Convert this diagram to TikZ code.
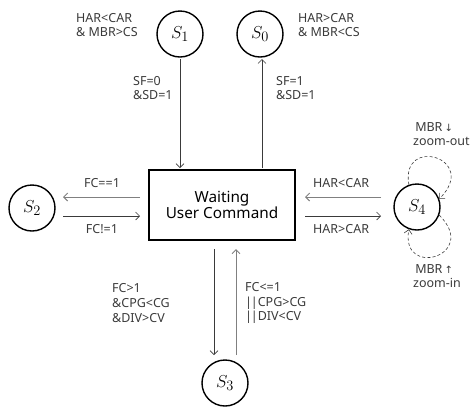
\documentclass[tikz,border=0pt]{standalone}
\usepackage{fontspec}
\setmainfont{Noto Sans}
\newfontfamily\symfont{DejaVu Sans}
\usetikzlibrary{arrows.meta}
\definecolor{ink}{HTML}{3A3A3A}
\definecolor{soft}{HTML}{808080}
\newcommand{\dbar}{|\kern-1.2pt|}
\tikzset{
  x=1pt, y=-1pt,
  state/.style={circle, draw=black, line width=1.4pt, minimum size=46pt, inner sep=0pt, font=\fontsize{19}{19}\selectfont},
  cond/.style={text=ink, font=\fontsize{12.5}{14.7}\selectfont, align=left, inner sep=0pt, anchor=west},
  tip/.style={-{Straight Barb[length=4pt,width=8pt]}},
  flow/.style={tip, draw=ink, line width=0.6pt},
  flowsoft/.style={tip, draw=soft, line width=1pt},
  loopline/.style={tip, draw=ink, line width=0.6pt, dashed, dash pattern=on 3pt off 2.2pt}
}
\begin{document}
\begin{tikzpicture}
\useasboundingbox (0,0) rectangle (472,408);

% states
\node[state] (s1) at (180,34) {$S_1$};
\node[state] (s0) at (260,34) {$S_0$};
\node[state] (s2) at (32,208) {$S_2$};
\node[state] (s4) at (417,207) {$S_4$};
\node[state] (s3) at (225,383) {$S_3$};

% central waiting state
\node[draw=black, line width=1.4pt, minimum width=146pt, minimum height=70pt, inner sep=0pt,
      align=center, font=\fontsize{15.3}{16.5}\selectfont, text=black] (w) at (222,205)
      {Waiting\\User Command};

% anchor points on the box edges and beside the states
\coordinate (wt1) at (180,168);
\coordinate (wt0) at (262,168);
\coordinate (wb3) at (214,249);
\coordinate (wb3u) at (236,249);
\coordinate (wl1) at (140,197);
\coordinate (wl2) at (140,216);
\coordinate (wr1) at (305,197);
\coordinate (wr2) at (305,216);
\coordinate (s2a) at (63,197);
\coordinate (s2b) at (63,216);
\coordinate (s4a) at (381,197);
\coordinate (s4b) at (381,216);
\coordinate (s3a) at (214,355);
\coordinate (s3b) at (236,355);
\coordinate (s1b) at (180,59);
\coordinate (s0b) at (262,59);

% transitions
\draw[flow] (s1b) -- (wt1);
\draw[flow] (wt0) -- (s0b);
\draw[flowsoft] (wl1) -- (s2a);
\draw[flow] (s2b) -- (wl2);
\draw[flowsoft] (s4a) -- (wr1);
\draw[flow] (wr2) -- (s4b);
\draw[flow] (wb3) -- (s3a);
\draw[flowsoft] (s3b) -- (wb3u);

% self loops on S4
\draw[loopline] (s4.110) .. controls (400,135) and (480,158) .. (s4.20);
\draw[loopline] (s4.-20) .. controls (480,256) and (400,279) .. (s4.-110);

% conditions
\node[cond] (c1) at (76,25) {HAR<CAR\\\& MBR>CS};
\node[cond] (c0) at (298,25) {HAR>CAR\\\& MBR<CS};
\node[cond] (t1) at (133,88) {SF=0\\\&SD=1};
\node[cond] (t0) at (276,88) {SF=1\\\&SD=1};
\node[cond, anchor=center] (l1) at (102,183) {FC==1};
\node[cond, anchor=center] (l2) at (102,229) {FC!=1};
\node[cond] (r1) at (313,183) {HAR<CAR};
\node[cond] (r2) at (313,229) {HAR>CAR};
\node[cond] (d1) at (112,303) {FC>1\\\&CPG<CG\\\&DIV>CV};
\node[cond] (d2) at (245,303) {FC<=1\\\dbar CPG>CG\\\dbar DIV<CV};
\node[cond] (zo) at (413,134) {\,MBR\,{\symfont\fontsize{10}{10}\selectfont ↓}\\zoom-out};
\node[cond] (zi) at (413,276) {\,MBR\,{\symfont\fontsize{10}{10}\selectfont ↑}\\zoom-in};
\end{tikzpicture}
\end{document}
